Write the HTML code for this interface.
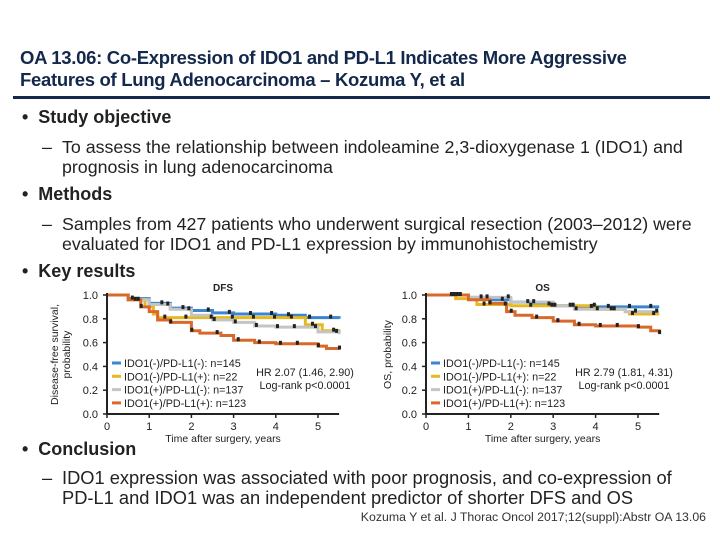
<!DOCTYPE html>
<html><head><meta charset="utf-8">
<style>
body{margin:0;width:720px;height:540px;background:#fff;position:relative;overflow:hidden;font-family:"Liberation Sans",Arial,sans-serif;color:#1a1a1a}
.t{position:absolute;white-space:nowrap}
.title{left:20px;top:47px;font-size:18.5px;font-weight:bold;color:#14284b;line-height:22px;letter-spacing:-0.3px}
.b{font-size:18px;font-weight:bold;color:#222}
.s{font-size:17.8px;color:#222;line-height:20px}
.d{position:absolute;left:42px}
svg{position:absolute;left:0;top:0}
</style></head><body>
<div class="t title">OA 13.06: Co-Expression of IDO1 and PD-L1 Indicates More Aggressive<br>Features of Lung Adenocarcinoma – Kozuma Y, et al</div>
<div style="position:absolute;left:13px;top:96px;width:697px;height:3px;background:#14284b"></div>
<div class="t b" style="left:22px;top:107px">•&nbsp;&nbsp;Study objective</div>
<div class="t s" style="left:62px;top:137px"><span class="d" style="left:-20px">–</span>To assess the relationship between indoleamine 2,3-dioxygenase 1 (IDO1) and<br>prognosis in lung adenocarcinoma</div>
<div class="t b" style="left:22px;top:184px">•&nbsp;&nbsp;Methods</div>
<div class="t s" style="left:62px;top:214px"><span class="d" style="left:-20px">–</span>Samples from 427 patients who underwent surgical resection (2003–2012) were<br>evaluated for IDO1 and PD-L1 expression by immunohistochemistry</div>
<div class="t b" style="left:22px;top:261px">•&nbsp;&nbsp;Key results</div>
<div class="t b" style="left:22px;top:439px">•&nbsp;&nbsp;Conclusion</div>
<div class="t s" style="left:62px;top:468px;font-size:18.3px"><span class="d" style="left:-20px">–</span>IDO1 expression was associated with poor prognosis, and co-expression of<br>PD-L1 and IDO1 was an independent predictor of shorter DFS and OS</div>
<div class="t" style="right:14px;top:510px;font-size:12.3px;color:#333">Kozuma Y et al. J Thorac Oncol 2017;12(suppl):Abstr OA 13.06</div>
<svg id="svg" width="720" height="540"></svg>
<script>
const xTicks=[0,1,2,3,4,5];
const yTicks=[0,0.2,0.4,0.6,0.8,1.0];
const seriesNames=["IDO1(-)/PD-L1(-): n=145","IDO1(-)/PD-L1(+): n=22","IDO1(+)/PD-L1(-): n=137","IDO1(+)/PD-L1(+): n=123"];
const colors=["#3a86d0","#e8b820","#c4c4c4","#d9692a"];
// DFS
const dfsBlueT=[0,0.5,1,1.5,2,2.5,3,4,4.7,5.5];
const dfsBlueS=[1,0.97,0.93,0.89,0.87,0.85,0.84,0.83,0.81,0.80];
const dfsYellowT=[0,0.5,0.9,1.1,1.2,4.7,5.1,5.5];
const dfsYellowS=[1,0.96,0.90,0.84,0.81,0.75,0.70,0.68];
const dfsGrayT=[0,0.5,1,1.5,2,2.5,3,3.5,4,5,5.5];
const dfsGrayS=[1,0.96,0.92,0.88,0.83,0.79,0.77,0.74,0.73,0.69,0.67];
const dfsOrangeT=[0,0.5,0.8,1,1.2,1.5,2,2.2,2.7,3,3.5,4,5,5.2,5.5];
const dfsOrangeS=[1,0.96,0.90,0.86,0.79,0.77,0.70,0.68,0.66,0.62,0.60,0.59,0.57,0.55,0.55];
// OS
const osBlueT=[0,1,1.5,2,2.5,3,3.5,5.5];
const osBlueS=[1,0.98,0.96,0.94,0.92,0.91,0.90,0.90];
const osYellowT=[0,0.7,1.2,2,4,4.7,4.8,5.5];
const osYellowS=[1,0.97,0.92,0.91,0.88,0.86,0.84,0.84];
const osGrayT=[0,1,2,3,3.5,4.7,5.5];
const osGrayS=[1,0.98,0.94,0.91,0.88,0.86,0.86];
const osOrangeT=[0,1,1.5,1.9,2.1,2.5,3,3.5,4,5,5.3,5.5];
const osOrangeS=[1,0.96,0.93,0.86,0.83,0.81,0.78,0.75,0.74,0.73,0.70,0.68];
const censorTimes=[0.6,1.3,1.8,2.4,2.9,3.4,3.9,4.3,4.8,5.3];

const svg=document.getElementById('svg');
const NS="http://www.w3.org/2000/svg";
function mk(tag,attrs,parent){const e=document.createElementNS(NS,tag);for(const k in attrs)e.setAttribute(k,attrs[k]);(parent||svg).appendChild(e);return e;}
function survAt(T,S,t){let v=S[0];for(let i=0;i<T.length;i++){if(T[i]<=t)v=S[i];}return v;}

function drawChart(cfg){
  const g=mk('g',{});
  
  
  const xs=t=>cfg.x0+(cfg.x5-cfg.x0)*t/5;
  const ys=v=>cfg.y0+(cfg.y1-cfg.y0)*v;
  const xEnd=xs(5.5);
  cfg.series.forEach((s,i)=>{
    let d='M'+xs(s.T[0])+','+ys(s.S[0]);
    for(let k=1;k<s.T.length;k++){d+=' H'+xs(s.T[k])+' V'+ys(s.S[k]);}
    d+=' H'+xEnd;
    const p=mk('path',{d:d,fill:'none',stroke:colors[i],'stroke-width':3},g);
    
    
  });
  cfg.series.forEach((s,i)=>{
    censorTimes.forEach(ct=>{
      const tt=ct+i*0.07;
      const c=mk('rect',{x:xs(tt)-1.5,y:ys(survAt(s.T,s.S,tt))-3,width:3,height:4,fill:'#222'},g);
      
      
    });
  });
  const ax=mk('path',{d:`M${cfg.x0},${ys(1)-2} V${cfg.y0} H${xEnd}`,fill:'none',stroke:'#222','stroke-width':2},g);
  
  
  yTicks.forEach(v=>{
    mk('line',{x1:cfg.x0-4,x2:cfg.x0,y1:ys(v),y2:ys(v),stroke:'#222','stroke-width':1.5},g);
    const t=mk('text',{x:cfg.x0-9,y:ys(v)+4,'font-size':11,'text-anchor':'end',fill:'#222'},g);
    t.textContent=v.toFixed(1);
    
    
  });
  xTicks.forEach(v=>{
    mk('line',{x1:xs(v),x2:xs(v),y1:cfg.y0,y2:cfg.y0+4,stroke:'#222','stroke-width':1.5},g);
    const t=mk('text',{x:xs(v),y:cfg.y0+16,'font-size':11,'text-anchor':'middle',fill:'#222'},g);
    t.textContent=v;
    
    
  });
  const xt=mk('text',{x:(cfg.x0+xEnd)/2,y:cfg.y0+28,'font-size':10.5,'text-anchor':'middle',fill:'#222'},g);
  xt.textContent='Time after surgery, years';
  
  
  const tt=mk('text',{x:(cfg.x0+xEnd)/2,y:ys(1)-4,'font-size':10,'font-weight':'bold','text-anchor':'middle',fill:'#222'},g);
  tt.textContent=cfg.title;
  
  
  cfg.ylab.forEach((l,i)=>{
    const yt=mk('text',{x:0,y:0,'font-size':10.5,'text-anchor':'middle',fill:'#222',transform:`translate(${cfg.ylx+i*12},${(ys(0)+ys(1))/2}) rotate(-90)`},g);
    yt.textContent=l;
    
    
  });
  seriesNames.forEach((n,i)=>{
    const yy=363+i*13.3;
    mk('line',{x1:cfg.x0+5,x2:cfg.x0+14,y1:yy,y2:yy,stroke:colors[i],'stroke-width':3},g);
    const t=mk('text',{x:cfg.x0+17,y:yy+4,'font-size':10.8,fill:'#222'},g);
    t.textContent=n;
    
    
  });
  cfg.hr.forEach((l,i)=>{
    const t=mk('text',{x:cfg.hrx,y:376+i*13,'font-size':10.8,'text-anchor':'middle',fill:'#222'},g);
    t.textContent=l;
    
    
  });
}
drawChart({name:'dfs',title:'DFS',x0:107,x5:318,y0:414,y1:295,ylx:58,ylab:['Disease-free survival,','probability'],hrx:305,hr:['HR 2.07 (1.46, 2.90)','Log-rank p<0.0001'],
  series:[{T:dfsBlueT,S:dfsBlueS},{T:dfsYellowT,S:dfsYellowS},{T:dfsGrayT,S:dfsGrayS},{T:dfsOrangeT,S:dfsOrangeS}]});
drawChart({name:'os',title:'OS',x0:426,x5:638,y0:414,y1:295,ylx:391,ylab:['OS, probability'],hrx:624,hr:['HR 2.79 (1.81, 4.31)','Log-rank p<0.0001'],
  series:[{T:osBlueT,S:osBlueS},{T:osYellowT,S:osYellowS},{T:osGrayT,S:osGrayS},{T:osOrangeT,S:osOrangeS}]});
</script>
</body></html>
